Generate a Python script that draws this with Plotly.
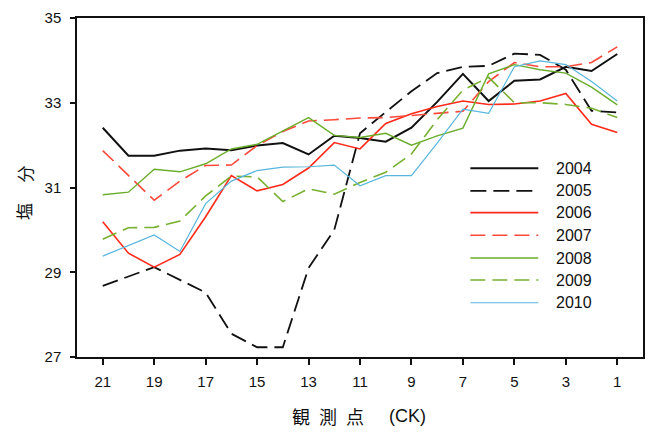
import plotly.graph_objects as go

# Observation stations, CK21 (left) down to CK1 (right)
stations = list(range(21, 0, -1))

sal_2004 = [32.41, 31.75, 31.75, 31.87, 31.92, 31.88, 31.99, 32.05, 31.78, 32.22, 32.17,
            32.08, 32.41, 33.02, 33.68, 33.04, 33.52, 33.55, 33.85, 33.75, 34.15]
sal_2005 = [28.68, 28.90, 29.12, 28.82, 28.52, 27.55, 27.23, 27.23, 29.10, 30.00, 32.28,
            32.78, 33.27, 33.70, 33.85, 33.87, 34.16, 34.13, 33.78, 32.81, 32.77]
sal_2006 = [30.19, 29.45, 29.12, 29.42, 30.31, 31.28, 30.92, 31.07, 31.46, 32.06, 31.91,
            32.51, 32.74, 32.91, 33.04, 32.96, 32.97, 33.04, 33.22, 32.49, 32.30]
sal_2007 = [31.87, 31.28, 30.70, 31.15, 31.52, 31.53, 31.99, 32.32, 32.57, 32.60, 32.64,
            32.65, 32.70, 32.75, 32.80, 33.50, 33.95, 33.85, 33.85, 33.95, 34.32]
sal_2008 = [30.83, 30.89, 31.43, 31.37, 31.56, 31.91, 32.02, 32.34, 32.65, 32.23, 32.18,
            32.28, 32.00, 32.22, 32.40, 33.68, 33.90, 33.78, 33.70, 33.37, 32.95]
sal_2009 = [29.78, 30.05, 30.06, 30.21, 30.80, 31.27, 31.25, 30.67, 30.97, 30.84, 31.12,
            31.36, 31.79, 32.60, 33.30, 33.60, 33.00, 33.00, 32.96, 32.87, 32.65]
sal_2010 = [29.38, 29.63, 29.88, 29.49, 30.62, 31.15, 31.40, 31.48, 31.49, 31.53, 31.04,
            31.28, 31.28, 32.05, 32.85, 32.75, 33.85, 33.99, 33.90, 33.50, 33.04]

years = ["2004", "2005", "2006", "2007", "2008", "2009", "2010"]
series = [sal_2004, sal_2005, sal_2006, sal_2007, sal_2008, sal_2009, sal_2010]

x_ticks = list(range(21, 0, -2))
y_ticks = [27, 29, 31, 33, 35]

styles = [
    dict(color="#111111", width=2.0, dash="solid"),
    dict(color="#111111", width=1.8, dash="16px,7px"),
    dict(color="#ff2a1a", width=1.6, dash="solid"),
    dict(color="#ff4a3a", width=1.6, dash="15px,7px"),
    dict(color="#6aad2c", width=1.4, dash="solid"),
    dict(color="#78b030", width=1.6, dash="15px,7px"),
    dict(color="#58b6dc", width=1.2, dash="solid"),
]

fig = go.Figure()
for name, vals, st in zip(years, series, styles):
    fig.add_trace(go.Scatter(x=stations, y=vals, mode="lines", name=name,
                             line=st, showlegend=False))

# Hand-drawn legend inside the plot area
leg_rows = [0.557, 0.490, 0.426, 0.359, 0.292, 0.227, 0.160]
for name, st, ry in zip(years, styles, leg_rows):
    fig.add_shape(type="line", xref="paper", yref="paper",
                  x0=0.695, x1=0.815, y0=ry, y1=ry, line=st)
    fig.add_annotation(xref="paper", yref="paper", x=0.842, y=ry, text=name,
                       showarrow=False, xanchor="left", yanchor="middle",
                       font=dict(family="Liberation Sans, Arial", size=16, color="#111"))

cjk = dict(family="Noto Sans CJK JP", size=18, color="#111")

# Rotated y-axis title, one glyph at a time to keep the wide spacing
for ch, cy in [("塩", 0.4286), ("分", 0.539)]:
    fig.add_annotation(xref="paper", yref="paper", x=-0.0933, y=cy, text=ch,
                       textangle=-90, showarrow=False, xanchor="center", yanchor="middle",
                       font=dict(family="Noto Sans CJK JP", size=17, color="#111"))

# x-axis title, spaced out character by character
for txt, px, fam in [("観", 302, cjk), ("測", 329, cjk), ("点", 356, cjk),
                     ("(CK)", 408.5, dict(family="Liberation Sans, Arial", size=18, color="#111"))]:
    fig.add_annotation(xref="paper", yref="paper", x=(px - 77) / 568, y=-0.174,
                       text=txt, showarrow=False, xanchor="center", yanchor="middle",
                       font=fam)

axis_font = dict(family="Liberation Sans, Arial", size=15, color="#111")
fig.update_xaxes(range=[22, 0], tickmode="array", tickvals=x_ticks,
                 ticks="outside", ticklen=6, tickwidth=1.5, tickcolor="#111",
                 showline=True, linecolor="#111", linewidth=1.5, mirror=True,
                 showgrid=False, zeroline=False, tickfont=axis_font,
                 ticklabelstandoff=4)
fig.update_yaxes(range=[27, 35], tickmode="array", tickvals=y_ticks,
                 ticks="outside", ticklen=5, tickwidth=1.5, tickcolor="#111",
                 showline=True, linecolor="#111", linewidth=1.5, mirror=True,
                 showgrid=False, zeroline=False, tickfont=axis_font,
                 ticklabelstandoff=6)

fig.update_layout(width=654, height=432, plot_bgcolor="white", paper_bgcolor="white",
                  margin=dict(l=77, r=9, t=14, b=75))

fig.write_html("out.html")
